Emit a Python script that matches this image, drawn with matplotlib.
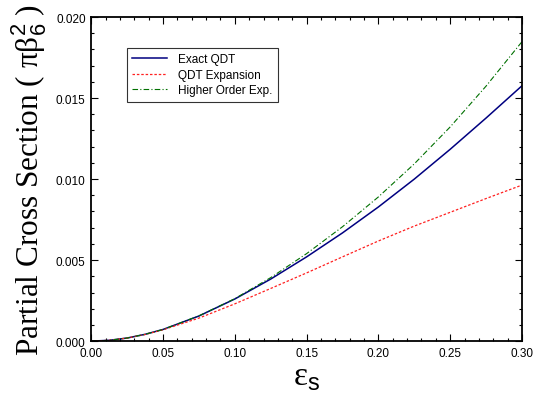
import matplotlib
matplotlib.use("Agg")
import matplotlib.pyplot as plt
from matplotlib.ticker import MultipleLocator, FormatStrFormatter

plt.rcParams['mathtext.fontset'] = 'custom'
plt.rcParams['mathtext.rm'] = 'Liberation Sans'
plt.rcParams['mathtext.sf'] = 'Liberation Sans'
plt.rcParams['mathtext.it'] = 'Liberation Sans:italic'

eps = [0.0, 0.0125, 0.025, 0.0375, 0.05, 0.075, 0.10, 0.125, 0.15, 0.175, 0.20, 0.225, 0.25, 0.275, 0.30]
exact_qdt = [0.0, 0.00005, 0.00019, 0.00042, 0.00072, 0.00155, 0.00260, 0.00383, 0.00520, 0.00668, 0.00828, 0.01000, 0.01184, 0.01377, 0.01576]
qdt_expansion = [0.0, 0.00005, 0.00019, 0.00041, 0.00070, 0.00142, 0.00230, 0.00325, 0.00421, 0.00520, 0.00618, 0.00710, 0.00795, 0.00880, 0.00963]
higher_order = [0.0, 0.00005, 0.00019, 0.00042, 0.00072, 0.00156, 0.00262, 0.00392, 0.00540, 0.00706, 0.00890, 0.01094, 0.01322, 0.01574, 0.01848]

fig = plt.figure(figsize=(5.37, 4.02), dpi=100)
ax = fig.add_axes([0.170, 0.149, 0.802, 0.806])

ax.plot(eps, exact_qdt, color='#000080', lw=1.1, ls='-', label='Exact QDT')
ax.plot(eps, qdt_expansion, color='#ff2020', lw=0.9, ls=(0, (2, 1.5)), label='QDT Expansion')
ax.plot(eps, higher_order, color='#007000', lw=0.8, ls=(0, (5, 2, 1, 2)), label='Higher Order Exp.')

ax.set_xlim(0, 0.30)
ax.set_ylim(0, 0.020)
ax.xaxis.set_major_locator(MultipleLocator(0.05))
ax.xaxis.set_minor_locator(MultipleLocator(0.01))
ax.yaxis.set_major_locator(MultipleLocator(0.005))
ax.yaxis.set_minor_locator(MultipleLocator(0.001))
ax.xaxis.set_major_formatter(FormatStrFormatter('%.2f'))
ax.yaxis.set_major_formatter(FormatStrFormatter('%.3f'))
ax.tick_params(which='both', direction='in', top=True, right=True, width=0.8)
ax.tick_params(which='major', length=5, labelsize=8.5, pad=4)
ax.tick_params(which='minor', length=2.5)
for lab in ax.get_xticklabels() + ax.get_yticklabels():
    lab.set_family('Liberation Sans')
for s in ax.spines.values():
    s.set_linewidth(1.3)

ax.set_xlabel('ε$_\\mathrm{s}$', family='Liberation Serif', fontsize=24, labelpad=2)
ax.set_ylabel('Partial Cross Section ( πβ$_6^2$ )', family='Liberation Serif', fontsize=22.5, labelpad=5)

leg = ax.legend(loc='upper left', bbox_to_anchor=(0.083, 0.905), prop={'family': 'Liberation Sans', 'size': 8.5},
                frameon=True, fancybox=False, edgecolor='black', handlelength=2.9,
                borderpad=0.45, labelspacing=0.3, handletextpad=1.0, borderaxespad=0)
leg.get_frame().set_linewidth(0.8)

fig.savefig('out.png', dpi=100)
